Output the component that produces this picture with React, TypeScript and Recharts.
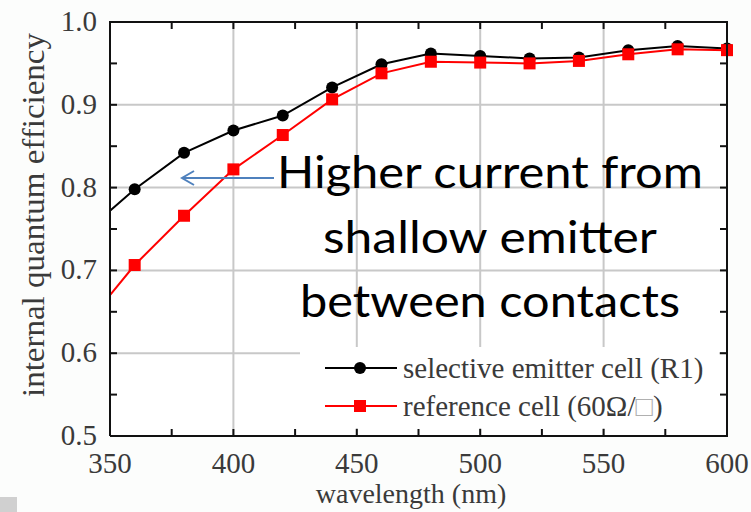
import React from "react";
import { LineChart, Line, XAxis, YAxis, CartesianGrid } from "recharts";

const wavelengths = [350, 360, 380, 400, 420, 440, 460, 480, 500, 520, 540, 560, 580, 600];
const selectiveEmitter = [0.772, 0.798, 0.842, 0.869, 0.887, 0.921, 0.949, 0.962, 0.959, 0.956, 0.957, 0.966, 0.971, 0.968];
const referenceCell = [0.67, 0.7065, 0.766, 0.822, 0.8635, 0.9066, 0.938, 0.952, 0.951, 0.95, 0.953, 0.961, 0.967, 0.966];

const xTicks = [350, 375, 400, 425, 450, 475, 500, 525, 550, 575, 600];
const yTicks = [0.5, 0.55, 0.6, 0.65, 0.7, 0.75, 0.8, 0.85, 0.9, 0.95, 1.0];
const xMajor = [350, 400, 450, 500, 550, 600];
const yMajor = [0.5, 0.6, 0.7, 0.8, 0.9, 1.0];

const data = wavelengths.map((w, i) => ({ w, sel: selectiveEmitter[i], ref: referenceCell[i] }));

const W = 751;
const H = 512;
const MARGIN = { top: 22, right: 24, bottom: 0, left: 0 };
const Y_AXIS_W = 110;
const X_AXIS_H = 76;
const PLOT_L = MARGIN.left + Y_AXIS_W;
const PLOT_T = MARGIN.top;
const PLOT_W = W - MARGIN.left - MARGIN.right - Y_AXIS_W;
const PLOT_H = H - MARGIN.top - MARGIN.bottom - X_AXIS_H;
const PLOT_R = PLOT_L + PLOT_W;
const PLOT_B = PLOT_T + PLOT_H;

const SERIF = "'Liberation Serif', 'Times New Roman', serif";
const LABEL = "#3a3a3a";
const AXIS = "#111";
const TICK_LEN = 7;

const isMajorY = (v: number) => yMajor.some((m) => Math.abs(m - v) < 1e-6);

const BottomTick = (props: any) => {
  const { x, y, payload } = props;
  return (
    <g>
      <line x1={x} y1={y} x2={x} y2={y - TICK_LEN} stroke={AXIS} strokeWidth={2} />
      {xMajor.includes(payload.value) && (
        <text x={x} y={y + 37} textAnchor="middle" fontFamily={SERIF} fontSize={29} fill={LABEL}>
          {payload.value}
        </text>
      )}
    </g>
  );
};

const LeftTick = (props: any) => {
  const { x, y, payload } = props;
  return (
    <g>
      <line x1={x} y1={y} x2={x + TICK_LEN} y2={y} stroke={AXIS} strokeWidth={2} />
      {isMajorY(payload.value) && (
        <text x={x - 13} y={y + 9} textAnchor="end" fontFamily={SERIF} fontSize={29} fill={LABEL}>
          {payload.value.toFixed(1)}
        </text>
      )}
    </g>
  );
};

const CircleDot = (props: any) => {
  const { cx, cy, index } = props;
  if (index === 0) return <g key={`c-${index}`} />;
  return <circle key={`c-${index}`} cx={cx} cy={cy} r={6} fill="#000" />;
};

const SquareDot = (props: any) => {
  const { cx, cy, index } = props;
  if (index === 0) return <g key={`s-${index}`} />;
  return <rect key={`s-${index}`} x={cx - 6} y={cy - 6} width={12} height={12} fill="#ff0000" />;
};

// frame positions for the mirrored top/right ticks
const fx = (v: number) => PLOT_L + ((v - 350) / 250) * PLOT_W;
const fy = (v: number) => PLOT_T + ((1.0 - v) / 0.5) * PLOT_H;

export default function App() {
  return (
    <div style={{ position: "absolute", left: 0, top: 0, width: W, height: H, background: "#fcfdfc" }}>
      <LineChart width={W} height={H} data={data} margin={MARGIN}>
        <CartesianGrid
          stroke="#c8c8c8"
          strokeWidth={2}
          verticalValues={[400, 450, 500, 550]}
          horizontalValues={[0.6, 0.7, 0.8, 0.9]}
          fill="#ffffff"
        />
        <XAxis
          dataKey="w"
          type="number"
          domain={[350, 600]}
          ticks={xTicks}
          interval={0}
          height={X_AXIS_H}
          tickSize={0}
          tickMargin={0}
          axisLine={{ stroke: AXIS, strokeWidth: 2 }}
          tick={<BottomTick />}
        />
        <YAxis
          type="number"
          domain={[0.5, 1.0]}
          ticks={yTicks}
          interval={0}
          width={Y_AXIS_W}
          tickSize={0}
          tickMargin={0}
          axisLine={{ stroke: AXIS, strokeWidth: 2 }}
          tick={<LeftTick />}
        />
        <Line dataKey="sel" stroke="#000" strokeWidth={2} dot={<CircleDot />} isAnimationActive={false} />
        <Line dataKey="ref" stroke="#ff0000" strokeWidth={2} dot={<SquareDot />} isAnimationActive={false} />
      </LineChart>

      <svg width={W} height={H} style={{ position: "absolute", left: 0, top: 0, pointerEvents: "none" }}>
        {/* top and right edges of the frame with inward ticks */}
        <line x1={PLOT_L - 1} y1={PLOT_T} x2={PLOT_R + 1} y2={PLOT_T} stroke={AXIS} strokeWidth={2} />
        <line x1={PLOT_R} y1={PLOT_T - 1} x2={PLOT_R} y2={PLOT_B + 1} stroke={AXIS} strokeWidth={2} />
        {xTicks.slice(1, -1).map((v) => (
          <line key={`tt-${v}`} x1={fx(v)} y1={PLOT_T} x2={fx(v)} y2={PLOT_T + TICK_LEN} stroke={AXIS} strokeWidth={2} />
        ))}
        {yTicks.slice(1, -1).map((v) => (
          <line key={`rt-${v}`} x1={PLOT_R} y1={fy(v)} x2={PLOT_R - TICK_LEN} y2={fy(v)} stroke={AXIS} strokeWidth={2} />
        ))}

        {/* axis titles */}
        <text
          transform="translate(44,215) rotate(-90)"
          textAnchor="middle"
          fontFamily={SERIF}
          fontSize={31}
          fill={LABEL}
          textLength={364}
          lengthAdjust="spacingAndGlyphs"
        >
          internal quantum efficiency
        </text>
        <text x={411} y={503} textAnchor="middle" fontFamily={SERIF} fontSize={28} fill={LABEL}>
          wavelength (nm)
        </text>

        {/* legend */}
        <rect x={300} y={347} width={419} height={81} fill="#ffffff" />
        <line x1={325} y1={368} x2={397} y2={368} stroke="#000" strokeWidth={2} />
        <circle cx={360} cy={368} r={6} fill="#000" />
        <text x={403} y={378} fontFamily={SERIF} fontSize={29} fill={LABEL}>
          selective emitter cell (R1)
        </text>
        <line x1={325} y1={406} x2={397} y2={406} stroke="#ff0000" strokeWidth={2} />
        <rect x={354} y={400} width={12} height={12} fill="#ff0000" />
        <text x={403} y={416} fontFamily={SERIF} fontSize={29} fill={LABEL}>
          reference cell (60Ω/<tspan fill="#b0b0b0">□</tspan>)
        </text>

        {/* annotation */}
        <line x1={274} y1={178} x2={182} y2={178} stroke="#4f81bd" strokeWidth={2} />
        <polyline points="194,171 182,178 194,185" fill="none" stroke="#4f81bd" strokeWidth={2} />
        <g fontFamily="Lato, 'Open Sans', sans-serif" fontSize={44} fill="#000">
          <text x={277} y={188} textLength={426} lengthAdjust="spacingAndGlyphs">Higher current from</text>
          <text x={323} y={253} textLength={334} lengthAdjust="spacingAndGlyphs">shallow emitter</text>
          <text x={300} y={317} textLength={380} lengthAdjust="spacingAndGlyphs">between contacts</text>
        </g>
      </svg>

      <div style={{ position: "absolute", left: 0, top: 497, width: 17, height: 15, background: "#d0d0d0" }} />
    </div>
  );
}
